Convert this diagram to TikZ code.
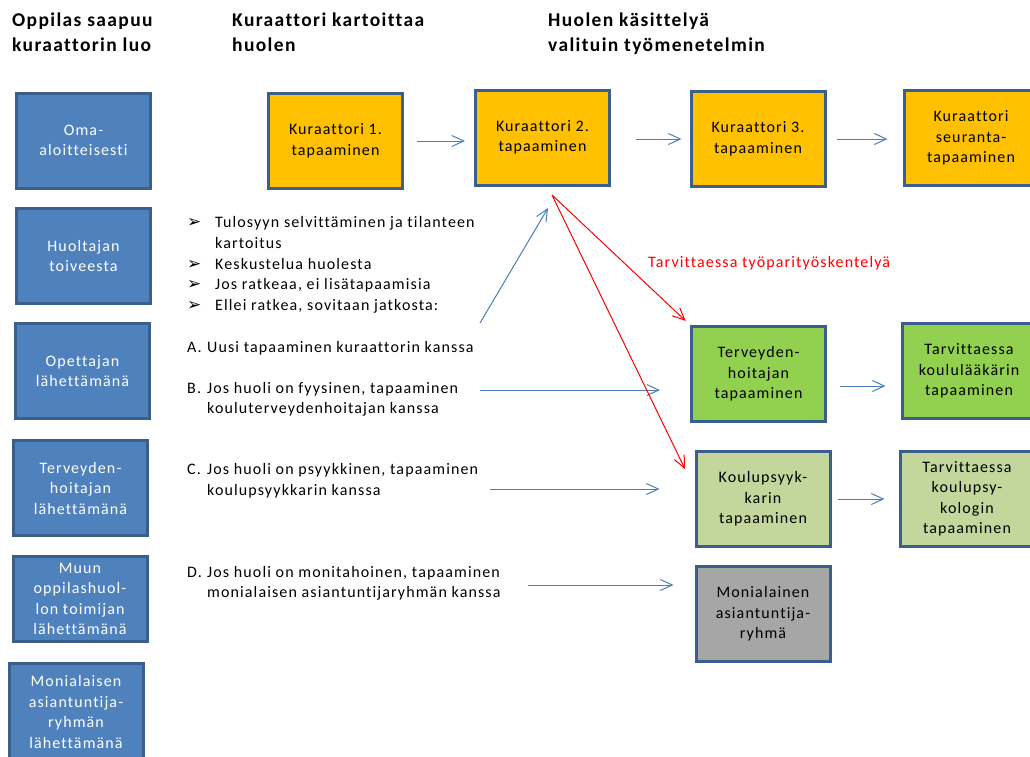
\documentclass[tikz,border=0pt]{standalone}
\usepackage{fontspec}
\setmainfont{Carlito}[LetterSpace=7,RawFeature=-liga]
\newfontfamily\dingfont{DejaVu Sans}
\usetikzlibrary{arrows.meta}
\definecolor{kehys}{HTML}{3B5F8C}
\definecolor{sininen}{HTML}{4F81BD}
\definecolor{oranssi}{HTML}{FFC000}
\definecolor{vihrea}{HTML}{92D050}
\definecolor{vaalea}{HTML}{C3D69B}
\definecolor{harmaa}{HTML}{A6A6A6}
\definecolor{nuolivari}{HTML}{4A7EBB}
\newcommand\merkki{{\dingfont\bfseries\fontsize{17}{17}\selectfont ➢}}

\begin{document}
\begin{tikzpicture}[x=1pt,y=-1pt]
	\tikzset{box/.style={draw=kehys,line width=3pt,align=center,inner sep=1pt,minimum width=134pt,minimum height=95pt,font=\fontsize{16}{20.5}\selectfont}}
	\tikzset{lahde/.style={box,fill=sininen,text=white}}
	\tikzset{kuraattori/.style={box,fill=oranssi}}
	\tikzset{terveys/.style={box,fill=vihrea}}
	\tikzset{psyko/.style={box,fill=vaalea}}
	\tikzset{moni/.style={box,fill=harmaa}}
	\tikzset{otsikko/.style={anchor=north west,inner sep=0pt,align=left,font=\fontsize{19.5}{25}\selectfont\bfseries}}
	\tikzset{teksti/.style={anchor=north west,inner sep=0pt,font=\fontsize{16}{20.7}\selectfont}}
	\tikzset{nuoli/.style={draw=nuolivari,line width=1pt,-{Straight Barb[length=12pt,width=11pt]}}}
	\tikzset{punainen/.style={draw=red,line width=1pt,-{Straight Barb[length=12pt,width=11pt]}}}
	\useasboundingbox (0,0) rectangle (1030,756);
	% otsikot
	\node[otsikko] (t1) at (12,13) {Oppilas saapuu\\kuraattorin luo};
	\node[otsikko] (t2) at (232,13) {Kuraattori kartoittaa\\huolen};
	\node[otsikko] (t3) at (548,13) {Huolen käsittelyä\\valituin työmenetelmin};
	% vasen sarake
	\node[lahde] (oma) at (83.5,140.5) {Oma-\\aloitteisesti};
	\node[lahde] (huoltaja) at (83.5,256) {Huoltajan\\toiveesta};
	\node[lahde] (opettaja) at (82.5,371) {Opettajan\\lähettämänä};
	\node[lahde] (thlahde) at (80.5,488) {Terveyden-\\hoitajan\\lähettämänä};
	\node[lahde,minimum height=85.5pt] (muun) at (80,599) {Muun\\oppilashuol-\\lon toimijan\\lähettämänä};
	\node[lahde,minimum height=98pt] (monilahde) at (76,712) {Monialaisen\\asiantuntija-\\ryhmän\\lähettämänä};
	% kuraattorin tapaamiset
	\node[kuraattori] (k1) at (335.5,141) {Kuraattori 1.\\tapaaminen};
	\node[kuraattori] (k2) at (542.5,137.5) {Kuraattori 2.\\tapaaminen};
	\node[kuraattori] (k3) at (758,139) {Kuraattori 3.\\tapaaminen};
	\node[kuraattori] (seuranta) at (971,138) {Kuraattori\\seuranta-\\tapaaminen};
	% muut tapaamiset
	\node[terveys] (tervt) at (758.5,374) {Terveyden-\\hoitajan\\tapaaminen};
	\node[terveys] (koulul) at (969,371) {Tarvittaessa\\koululääkärin\\tapaaminen};
	\node[psyko] (psy) at (763,499) {Koulupsyyk-\\karin\\tapaaminen};
	\node[psyko] (psykologi) at (967,499) {Tarvittaessa\\koulupsy-\\kologin\\tapaaminen};
	\node[moni] (moniryhma) at (763,614) {Monialainen\\asiantuntija-\\ryhmä};
	% tekstit
	\node[teksti] (lista) at (187,213) {\begin{tabular}{@{}p{28pt}@{}l@{}}
		\merkki & Tulosyyn selvittäminen ja tilanteen\\
		& kartoitus\\
		\merkki & Keskustelua huolesta\\
		\merkki & Jos ratkeaa, ei lisätapaamisia\\
		\merkki & Ellei ratkea, sovitaan jatkosta:
	\end{tabular}};
	\node[teksti] (kohtaA) at (187,337.5) {\begin{tabular}{@{}p{20pt}@{}l@{}}A. & Uusi tapaaminen kuraattorin kanssa\end{tabular}};
	\node[teksti] (kohtaB) at (187,378.5) {\begin{tabular}{@{}p{20pt}@{}l@{}}B. & Jos huoli on fyysinen, tapaaminen\\ & kouluterveydenhoitajan kanssa\end{tabular}};
	\node[teksti] (kohtaC) at (187,460) {\begin{tabular}{@{}p{20pt}@{}l@{}}C. & Jos huoli on psyykkinen, tapaaminen\\ & koulupsyykkarin kanssa\end{tabular}};
	\node[teksti] (kohtaD) at (187,562.5) {\begin{tabular}{@{}p{20pt}@{}l@{}}D. & Jos huoli on monitahoinen, tapaaminen\\ & monialaisen asiantuntijaryhmän kanssa\end{tabular}};
	\node[anchor=west,inner sep=0pt,text=red,font=\fontsize{16}{18}\selectfont] (tyopari) at (648,263) {Tarvittaessa työparityöskentelyä};
	% nuolet
	\draw[nuoli,shorten <=13pt,shorten >=9pt] (k1.east) -- (k1.east -| k2.west);
	\draw[nuoli,shorten <=25pt,shorten >=8pt] (k3.west -| k2.east) -- (k3.west);
	\draw[nuoli,shorten <=10pt,shorten >=15pt] (k3.east) -- (k3.east -| seuranta.west);
	\draw[nuoli,shorten <=13pt,shorten >=15pt] ([yshift=-12pt]tervt.east) -- ([yshift=-12pt]tervt.east -| koulul.west);
	\draw[nuoli,shorten <=6pt,shorten >=14pt] (psy.east) -- (psy.east -| psykologi.west);
	\coordinate (aAlku) at (480,323);
	\coordinate (aLoppu) at (548,208);
	\draw[nuoli] (aAlku) -- (aLoppu);
	\coordinate (bAlku) at (480,390);
	\draw[nuoli,shorten >=30pt] (bAlku) -- (bAlku -| tervt.west);
	\coordinate (cAlku) at (490,489);
	\draw[nuoli,shorten >=35pt] (cAlku) -- (cAlku -| psy.west);
	\coordinate (dAlku) at (528,585);
	\draw[nuoli,shorten >=21pt] (dAlku) -- (dAlku -| moniryhma.west);
	\coordinate (punAlku) at (552,195);
	\coordinate (punLoppu) at (685,469);
	\draw[punainen,shorten >=6pt] (punAlku) -- (tervt.north west);
	\draw[punainen] (punAlku) -- (punLoppu);
\end{tikzpicture}
\end{document}
